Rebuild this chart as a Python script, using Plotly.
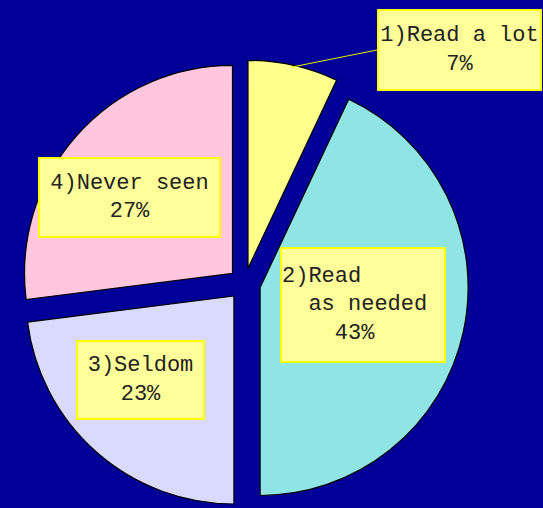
import plotly.graph_objects as go

# ---- data ----
categories = ["1)Read a lot", "2)Read as needed", "3)Seldom", "4)Never seen"]
values = [7, 43, 23, 27]
label_texts = [
    "1)Read a lot<br>7%",
    "2)Read<br>&nbsp;&nbsp;as needed<br>&nbsp;&nbsp;&nbsp;&nbsp;43%",
    "3)Seldom<br>23%",
    "4)Never seen<br>27%",
]
slice_colors = ["#FFFF8C", "#8FE4E4", "#DADAFF", "#FFC6DD"]

W, H = 543, 508
BG = "#000099"
CX, CY, HALF = 244.5, 284, 224

fig = go.Figure(
    go.Pie(
        values=values,
        labels=categories,
        sort=False,
        direction="clockwise",
        rotation=0,
        pull=0.077,
        marker=dict(colors=slice_colors, line=dict(color="#000000", width=1.2)),
        textinfo="none",
        hoverinfo="label+percent",
        showlegend=False,
        domain=dict(x=[(CX - HALF) / W, (CX + HALF) / W], y=[0, (H - (CY - HALF)) / H]),
    )
)

font = dict(family="Liberation Mono, DejaVu Sans Mono, monospace", size=22, color="#222222")
box = dict(bgcolor="#FFFF99", bordercolor="#FFFF00", borderwidth=2, borderpad=0, font=font)

def px(x):
    return x / W

def py(y):
    return 1 - y / H

annotations = [
    # 1) with leader line
    dict(text=label_texts[0], x=px(292), y=py(67), xref="paper", yref="paper",
         showarrow=True, arrowhead=0, arrowwidth=1.2, arrowcolor="#E6E600", standoff=0,
         ax=85, ay=-17, xanchor="left", yanchor="middle",
         width=161, height=78, align="center", valign="middle", **box),
    dict(text=label_texts[1], x=px(280), y=py(247), xref="paper", yref="paper",
         showarrow=False, xanchor="left", yanchor="top",
         width=162, height=112, align="left", valign="middle", **box),
    dict(text=label_texts[2], x=px(76), y=py(340), xref="paper", yref="paper",
         showarrow=False, xanchor="left", yanchor="top",
         width=125, height=76, align="center", valign="middle", **box),
    dict(text=label_texts[3], x=px(38), y=py(157), xref="paper", yref="paper",
         showarrow=False, xanchor="left", yanchor="top",
         width=179, height=77, align="center", valign="middle", **box),
]

fig.update_layout(
    width=W, height=H,
    margin=dict(l=0, r=0, t=0, b=0),
    paper_bgcolor=BG, plot_bgcolor=BG,
    annotations=annotations,
)

fig.write_html(
    "out.html",
    config={"displayModeBar": False},
    post_script="document.body.style.margin='0';document.body.style.overflow='hidden';",
)
